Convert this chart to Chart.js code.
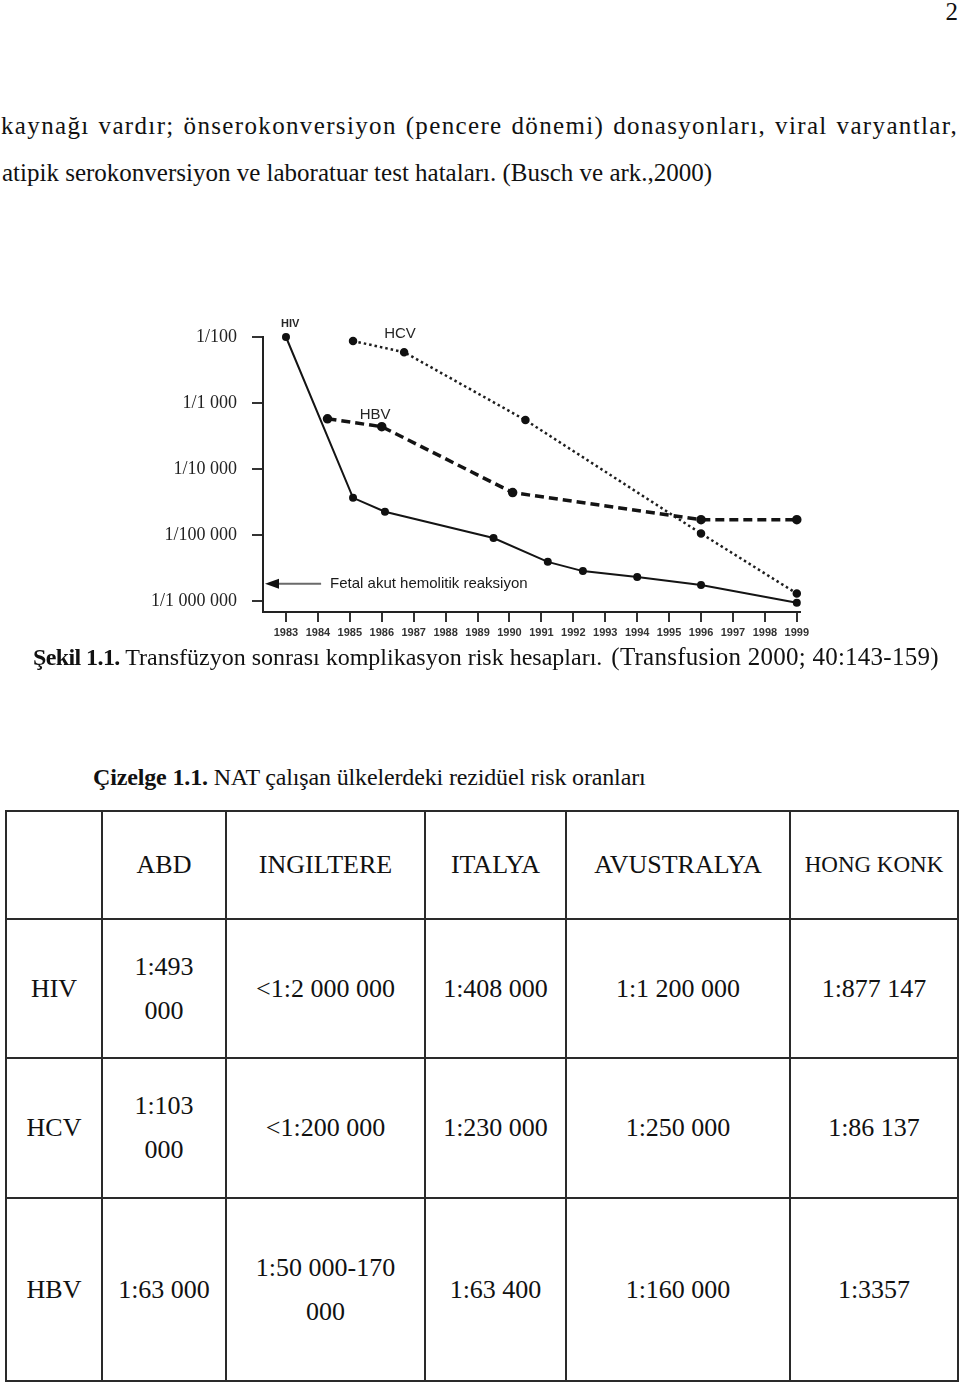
<!DOCTYPE html>
<html lang="tr">
<head>
<meta charset="utf-8">
<script src="https://cdn.jsdelivr.net/npm/chart.js@4"></script>
<style>
  html, body { margin: 0; padding: 0; background: #fff; }
  body { width: 960px; height: 1382px; position: relative; overflow: hidden;
         font-family: "Liberation Serif", "Times New Roman", serif; color: #111; }
  .abs { position: absolute; white-space: nowrap; }
  .pageno { right: 2px; top: -2px; font-size: 25px; }
  .para { font-size: 25px; line-height: 30px; }
  .l1 { left: 1px; top: 111px; width: 957px; text-align: justify; text-align-last: justify; white-space: normal; letter-spacing: 1.35px; }
  .l2 { left: 2px; top: 158px; }
  .cap { left: 33px; top: 642px; font-size: 24px; line-height: 30px; }
  .cap b { letter-spacing: -0.6px; }
  .cap small { font-size: 25px; letter-spacing: 0.25px; margin-left: 3px; }
  .ciz { left: 93px; top: 762px; font-size: 24px; line-height: 30px; letter-spacing: -0.15px; }
  #wrap { position: absolute; left: 150px; top: 310px; width: 670px; height: 340px; }
  table { position: absolute; left: 5px; top: 810px; border-collapse: collapse; table-layout: fixed;
          font-size: 26px; }
  td { border: 2px solid #2a2a2a; text-align: center; vertical-align: middle; padding: 0; line-height: 44px; }
  td.hk { font-size: 23px; }
</style>
</head>
<body>
<div class="abs pageno">2</div>
<div class="abs para l1">kaynağı vardır; önserokonversiyon (pencere dönemi) donasyonları, viral varyantlar,</div>
<div class="abs para l2">atipik serokonversiyon ve laboratuar test hataları. (Busch ve ark.,2000)</div>

<div id="wrap"><canvas id="risk" width="670" height="340"></canvas></div>

<div class="abs cap"><b>Şekil 1.1.</b> Transfüzyon sonrası komplikasyon risk hesapları. <small>(Transfusion 2000; 40:143-159)</small></div>
<div class="abs ciz"><b>Çizelge 1.1.</b> NAT çalışan ülkelerdeki rezidüel risk oranları</div>

<table>
  <colgroup>
    <col style="width:96px"><col style="width:124px"><col style="width:199px">
    <col style="width:141px"><col style="width:224px"><col style="width:168px">
  </colgroup>
  <tr style="height:108px"><td></td><td>ABD</td><td>INGILTERE</td><td>ITALYA</td><td>AVUSTRALYA</td><td class="hk">HONG KONK</td></tr>
  <tr style="height:139px"><td>HIV</td><td>1:493<br>000</td><td>&lt;1:2 000 000</td><td>1:408 000</td><td>1:1 200 000</td><td>1:877 147</td></tr>
  <tr style="height:140px"><td>HCV</td><td>1:103<br>000</td><td>&lt;1:200 000</td><td>1:230 000</td><td>1:250 000</td><td>1:86 137</td></tr>
  <tr style="height:183px"><td>HBV</td><td>1:63 000</td><td>1:50 000-170<br>000</td><td>1:63 400</td><td>1:160 000</td><td>1:3357</td></tr>
</table>

<script>
// risk values are "1 in N" denominators
const years = [1983, 1984, 1985, 1986, 1987, 1988, 1989, 1990, 1991, 1992, 1993, 1994, 1995, 1996, 1997, 1998, 1999];
const yTicks = [1e-2, 1e-3, 1e-4, 1e-5, 1e-6];
const yTickLabels = ["1/100", "1/1 000", "1/10 000", "1/100 000", "1/1 000 000"];

const hivYears = [1983.0, 1985.1, 1986.1, 1989.5, 1991.2, 1992.3, 1994.0, 1996.0, 1999.0];
const hivDenom = [100, 27500, 44700, 112000, 257000, 355000, 437000, 575000, 1070000];

const hbvYears = [1984.3, 1986.0, 1990.1, 1996.0, 1999.0];
const hbvDenom = [1740, 2290, 22900, 58900, 58900];

const hcvYears = [1985.1, 1986.7, 1990.5, 1996.0, 1999.0];
const hcvDenom = [115, 170, 1820, 95500, 776000];

const fetalLabel = "Fetal akut hemolitik reaksiyon";

const points = (xs, denoms) => xs.map((x, i) => ({ x, y: 1 / denoms[i] }));

const notes = {
  id: "notes",
  afterDatasetsDraw(chart) {
    const { ctx, chartArea, scales: { x, y } } = chart;
    ctx.save();
    ctx.fillStyle = "#262626";
    ctx.textAlign = "center";
    ctx.textBaseline = "middle";
    [
      ["HIV", 1983.13, 10 ** -1.8, "bold 11px 'Liberation Sans', Arial"],
      ["HCV", 1986.57, 10 ** -1.95, "15px 'Liberation Sans', Arial"],
      ["HBV", 1985.79, 10 ** -3.18, "15px 'Liberation Sans', Arial"]
    ].forEach(([t, vx, vy, f]) => {
      ctx.font = f;
      ctx.fillText(t, x.getPixelForValue(vx), y.getPixelForValue(vy));
    });

    // arrow pointing at the y axis
    const ay = y.getPixelForValue(10 ** -5.74);
    const ax = chartArea.left + 2;
    ctx.strokeStyle = "#6a6a6a";
    ctx.lineWidth = 2;
    ctx.beginPath();
    ctx.moveTo(ax + 8, ay);
    ctx.lineTo(x.getPixelForValue(1984.1), ay);
    ctx.stroke();
    ctx.fillStyle = "#111";
    ctx.beginPath();
    ctx.moveTo(ax, ay);
    ctx.lineTo(ax + 14, ay - 5);
    ctx.lineTo(ax + 14, ay + 5);
    ctx.closePath();
    ctx.fill();
    ctx.textAlign = "left";
    ctx.font = "15px 'Liberation Sans', Arial";
    ctx.fillStyle = "#1a1a1a";
    ctx.fillText(fetalLabel, x.getPixelForValue(1984.38), ay);
    ctx.restore();
  }
};

const markers = { pointRadius: 3, pointHoverRadius: 3, pointBackgroundColor: "#111", pointBorderColor: "#111", clip: false, tension: 0 };

new Chart(document.getElementById("risk"), {
  type: "line",
  data: {
    datasets: [
      { label: "HIV", data: points(hivYears, hivDenom), borderColor: "#141414", borderWidth: 2, ...markers },
      { label: "HBV", data: points(hbvYears, hbvDenom), borderColor: "#141414", borderWidth: 3.5, borderDash: [9, 5], ...markers },
      { label: "HCV", data: points(hcvYears, hcvDenom), borderColor: "#1e1e1e", borderWidth: 2.5, borderDash: [2.5, 3], ...markers }
    ]
  },
  options: {
    responsive: false,
    animation: false,
    devicePixelRatio: 1,
    layout: { padding: { top: 27, right: 20, left: 0, bottom: 0 } },
    plugins: { legend: { display: false }, tooltip: { enabled: false } },
    scales: {
      x: {
        type: "linear",
        min: 1982.28,
        max: 1999.1,
        afterBuildTicks: (s) => { s.ticks = years.map((v) => ({ value: v })); },
        afterFit: (s) => { s.height = 38; },
        border: { display: true, color: "#222", width: 2 },
        grid: { drawOnChartArea: false, drawTicks: true, tickLength: 10, color: "#333", lineWidth: 2 },
        ticks: { color: "#333", padding: 4, maxRotation: 0, autoSkip: false,
                 font: { family: "'Liberation Sans', Arial", size: 11, weight: "bold" },
                 callback: (v) => String(v) }
      },
      y: {
        type: "logarithmic",
        min: 1 / 1480000,
        max: 1 / 100,
        afterBuildTicks: (s) => { s.ticks = yTicks.map((v) => ({ value: v })); },
        afterFit: (s) => { s.width = 113; },
        border: { display: true, color: "#222", width: 2 },
        grid: { drawOnChartArea: false, drawTicks: true, tickLength: 11, color: "#333", lineWidth: 2 },
        ticks: { color: "#222", padding: 15, autoSkip: false,
                 font: { family: "'Liberation Serif', 'Times New Roman', serif", size: 18 },
                 callback: (v) => yTickLabels[yTicks.findIndex((t) => Math.abs(t - v) / t < 1e-6)] }
      }
    }
  },
  plugins: [notes]
});
</script>
</body>
</html>
